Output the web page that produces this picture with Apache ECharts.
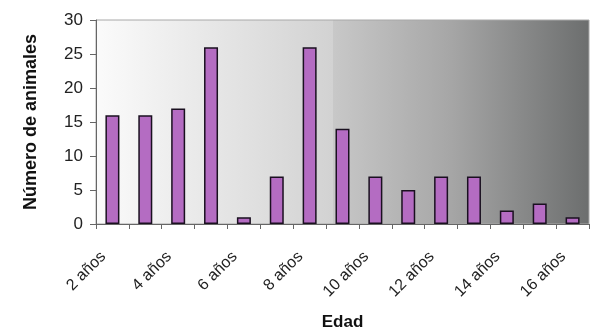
<!DOCTYPE html>
<html>
<head>
<meta charset="utf-8">
<script src="https://cdn.jsdelivr.net/npm/echarts@6/dist/echarts.min.js"></script>
<style>
  html, body { margin: 0; padding: 0; background: #fff; }
  #chart { width: 592px; height: 333px; }
</style>
</head>
<body>
<div id="chart"></div>
<script>
// Age categories (years) and number of animals in each
const edades = ['2 años', '3 años', '4 años', '5 años', '6 años', '7 años', '8 años', '9 años',
                '10 años', '11 años', '12 años', '13 años', '14 años', '15 años', '16 años'];
const animales = [16, 16, 17, 26, 1, 7, 26, 14, 7, 5, 7, 7, 2, 3, 1];
const yTicks = [0, 5, 10, 15, 20, 25, 30];

const chart = echarts.init(document.getElementById('chart'));
const font = '"Liberation Sans", Arial, sans-serif';

chart.setOption({
  animation: false,
  grid: {
    left: 96, right: 3, top: 20, bottom: 109,
    containLabel: false,
    outerBoundsMode: 'none',
    show: true,
    borderColor: '#a8a8a8',
    borderWidth: 1,
    backgroundColor: new echarts.graphic.LinearGradient(0, 0, 1, 0, [
      { offset: 0, color: '#fbfbfb' },
      { offset: 0.48, color: '#d2d2d2' },
      { offset: 0.48, color: '#c8c8c8' },
      { offset: 0.72, color: '#a6a6a6' },
      { offset: 1, color: '#6c6e6e' }
    ])
  },
  xAxis: {
    type: 'category',
    data: edades,
    boundaryGap: true,
    name: 'Edad',
    nameLocation: 'middle',
    nameGap: 90,
    nameTextStyle: { fontFamily: font, fontSize: 17, fontWeight: 'bold', color: '#111' },
    axisLine: { show: true, lineStyle: { color: '#666', width: 1 } },
    axisTick: { show: true, interval: 0, alignWithLabel: false, length: 5, lineStyle: { color: '#666' } },
    axisLabel: {
      interval: 1,
      rotate: 45,
      margin: 21,
      padding: [0, 13, 0, 0],
      fontFamily: font,
      fontSize: 16,
      color: '#222'
    },
    splitLine: { show: false }
  },
  yAxis: {
    type: 'value',
    min: yTicks[0],
    max: yTicks[yTicks.length - 1],
    interval: 5,
    name: 'Número de animales',
    nameLocation: 'middle',
    nameGap: 56,
    nameRotate: 90,
    nameTextStyle: { fontFamily: font, fontSize: 18, fontWeight: 'bold', color: '#111' },
    axisLine: { show: true, lineStyle: { color: '#666', width: 1 } },
    axisTick: { show: true, length: 6, inside: false, lineStyle: { color: '#666' } },
    axisLabel: { fontFamily: font, fontSize: 17, color: '#222', margin: 13 },
    splitLine: { show: false }
  },
  series: [{
    type: 'bar',
    data: animales,
    barWidth: 14,
    itemStyle: {
      color: '#b46cc2',
      borderColor: '#1a1020',
      borderWidth: 1.5
    }
  }]
});
</script>
</body>
</html>
